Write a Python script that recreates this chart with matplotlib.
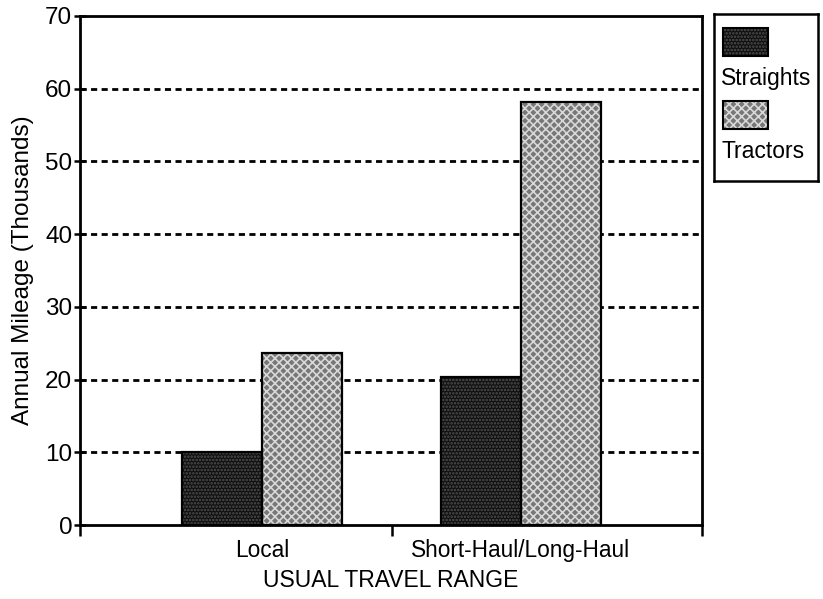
import matplotlib
matplotlib.use("Agg")
import matplotlib.pyplot as plt
from matplotlib.patches import Rectangle
import numpy as np

categories = ["Local", "Short-Haul/Long-Haul"]
series_names = ["Straights", "Tractors"]
straights = [10.0, 20.4]
tractors = [23.6, 58.2]
y_ticks = [0, 10, 20, 30, 40, 50, 60, 70]

plt.rcParams['font.family'] = ['Liberation Sans', 'DejaVu Sans']
plt.rcParams['hatch.linewidth'] = 1.2

fig = plt.figure(figsize=(8.23, 5.99), dpi=100)
W, H = 823, 599
ax = fig.add_axes([80 / W, 1 - 525 / H, (702 - 80) / W, (525 - 16) / H])

x = np.arange(len(categories))
bw = 0.31

styles = [
    dict(face="#101010", hatch=".....", hcol="#505050"),
    dict(face="#777777", hatch="xxxx", hcol="#d8d8d8"),
]

def draw_bars(axis, xs, vals, st):
    axis.bar(xs, vals, bw, color=st["face"], edgecolor="none", zorder=3)
    axis.bar(xs, vals, bw, color="none", edgecolor=st["hcol"], hatch=st["hatch"],
             linewidth=0, zorder=3.5)
    axis.bar(xs, vals, bw, color="none", edgecolor="black", linewidth=1.6, zorder=4)

draw_bars(ax, x - bw / 2, straights, styles[0])
draw_bars(ax, x + bw / 2, tractors, styles[1])

ax.set_xlim(-0.703, 1.699)
ax.set_ylim(0, 70)
ax.set_yticks(y_ticks)
ax.set_yticklabels([str(v) for v in y_ticks])
ax.set_xticks(x)
ax.set_xticklabels(categories)
ax.tick_params(axis='x', length=0, pad=10, labelsize=16.3)
ax.set_xticks([-0.703, 0.5, 1.699], minor=True)
ax.tick_params(axis='x', which='minor', direction='out', length=8, width=1.8)
ax.tick_params(axis='y', direction='inout', length=9, width=1.8, labelsize=17.5, pad=1)

for v in y_ticks[1:-1]:
    ax.axhline(v, color='black', linestyle=(0, (2.2, 1.6)), linewidth=2.0, zorder=1)

for s in ax.spines.values():
    s.set_linewidth(2.0)

ax.set_ylabel("Annual Mileage (Thousands)", fontsize=17.5, labelpad=8)
ax.set_xlabel("USUAL TRAVEL RANGE", fontsize=16.5, labelpad=5)

# legend
lax = fig.add_axes([714 / W, 1 - 181 / H, (818 - 714) / W, (181 - 14) / H])
lax.set_xlim(714, 818)
lax.set_ylim(181, 14)
lax.set_xticks([])
lax.set_yticks([])
for s in lax.spines.values():
    s.set_linewidth(1.8)
for (name, st, y0) in zip(series_names, styles, [28, 101]):
    lax.add_patch(Rectangle((723, y0), 45, 28, facecolor=st["face"], edgecolor="none"))
    lax.add_patch(Rectangle((723, y0), 45, 28, facecolor="none", edgecolor=st["hcol"],
                            hatch=st["hatch"], linewidth=0))
    lax.add_patch(Rectangle((723, y0), 45, 28, facecolor="none", edgecolor="black", linewidth=1.5))
    lax.text(721, y0 + 51, name, fontsize=16.5, va='center', ha='left')

fig.savefig("out.png", dpi=100)
